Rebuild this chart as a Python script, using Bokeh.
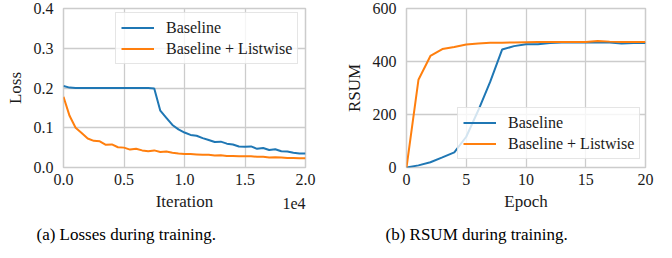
from bokeh.plotting import figure
from bokeh.layouts import row
from bokeh.models import Range1d, FixedTicker, Legend, LegendItem, Label, Title, InlineStyleSheet
from bokeh.core.properties import value
from bokeh.embed import file_html
from bokeh.resources import INLINE

# ---- data: losses (left) ----
iterations = [0, 500, 1000, 1500, 2000, 2500, 3000, 3500, 4000, 4500, 5000,
              5500, 6000, 6500, 7000, 7500, 8000, 8500, 9000, 9500, 10000,
              10500, 11000, 11500, 12000, 12500, 13000, 13500, 14000, 14500, 15000,
              15500, 16000, 16500, 17000, 17500, 18000, 18500, 19000, 19500, 20000]
loss_baseline = [0.205, 0.201, 0.200, 0.200, 0.200, 0.200, 0.200, 0.200, 0.200, 0.200, 0.200,
                 0.200, 0.200, 0.200, 0.200, 0.199, 0.143, 0.125, 0.107, 0.096, 0.088,
                 0.082, 0.080, 0.074, 0.069, 0.064, 0.065, 0.060, 0.058, 0.053, 0.052,
                 0.053, 0.047, 0.049, 0.044, 0.046, 0.041, 0.040, 0.037, 0.035, 0.035]
loss_listwise = [0.178, 0.130, 0.100, 0.087, 0.073, 0.067, 0.066, 0.057, 0.058, 0.051, 0.050,
                 0.045, 0.047, 0.043, 0.041, 0.043, 0.039, 0.040, 0.037, 0.035, 0.034,
                 0.034, 0.033, 0.032, 0.032, 0.030, 0.031, 0.029, 0.029, 0.028, 0.028,
                 0.028, 0.027, 0.027, 0.025, 0.026, 0.025, 0.024, 0.024, 0.023, 0.023]
loss_xticks = [0, 5000, 10000, 15000, 20000]
loss_xtick_labels = ["0.0", "0.5", "1.0", "1.5", "2.0"]
loss_yticks = [0.0, 0.1, 0.2, 0.3, 0.4]
loss_ytick_labels = ["0.0", "0.1", "0.2", "0.3", "0.4"]
loss_x_scale_text = "1e4"

# ---- data: RSUM (right) ----
epochs = list(range(0, 21))
rsum_baseline = [0, 8, 20, 38, 57, 116, 215, 323, 445, 458, 465,
                 465, 470, 472, 472, 472, 472, 472, 468, 470, 470]
rsum_listwise = [0, 331, 421, 447, 455, 464, 468, 471, 471, 472, 473,
                 474, 474, 474, 474, 474, 477, 475, 474, 474, 474]
rsum_xticks = [0, 5, 10, 15, 20]
rsum_yticks = [0, 200, 400, 600]

series_names = ["Baseline", "Baseline + Listwise"]
captions = ["(a) Losses during training.", "(b) RSUM during training."]

BLUE = "#1f77b4"
ORANGE = "#ff7f0e"
GRID = "#cccccc"
FONT = "Liberation Serif"
TXT = "#1a1a1a"

SERIF_CSS = """
:host { font-family: 'Liberation Serif', serif !important; --bokeh-font-family: 'Liberation Serif', serif; }
text, tspan, div, span { font-family: 'Liberation Serif', serif !important; }
"""


def set_font(obj, attr, font):
    try:
        setattr(obj, attr, value(font))
    except Exception:
        setattr(obj, attr, font)


def style(p):
    p.outline_line_color = GRID
    p.outline_line_width = 1.5
    for ax in (p.xaxis[0], p.yaxis[0]):
        ax.axis_line_color = None
        ax.major_tick_line_color = None
        ax.minor_tick_line_color = None
        ax.major_tick_out = 0
        ax.major_tick_in = 0
        set_font(ax, "major_label_text_font", FONT)
        ax.major_label_text_font_size = "16px"
        ax.major_label_text_color = TXT
        set_font(ax, "axis_label_text_font", FONT)
        ax.axis_label_text_font_size = "17px"
        ax.axis_label_text_font_style = "normal"
        ax.axis_label_text_color = TXT
    p.xaxis.major_label_standoff = 6
    p.yaxis.major_label_standoff = 10
    p.xaxis.axis_label_standoff = 4
    p.yaxis.axis_label_standoff = 6
    p.xgrid.grid_line_color = GRID
    p.ygrid.grid_line_color = GRID
    p.xgrid.grid_line_width = 1.3
    p.ygrid.grid_line_width = 1.3
    p.stylesheets = [InlineStyleSheet(css=SERIF_CSS)]


def make_legend(p, renderers, loc):
    leg = Legend(items=[LegendItem(label=n, renderers=[r]) for n, r in zip(series_names, renderers)],
                 location=loc)
    set_font(leg, "label_text_font", FONT)
    leg.label_text_font_size = "16px"
    leg.label_text_color = TXT
    leg.glyph_width = 33
    leg.glyph_height = 19
    leg.label_height = 19
    leg.label_standoff = 12
    leg.spacing = 2
    leg.padding = 5
    leg.margin = 0
    leg.border_line_color = GRID
    leg.border_line_width = 1.2
    leg.background_fill_alpha = 0.8
    p.add_layout(leg, "center")


def caption(p, text, offset):
    t = Title(text=text, align="left", offset=offset, text_font_size="17px",
              text_font_style="normal", text_color="#000000", standoff=19)
    set_font(t, "text_font", FONT)
    p.add_layout(t, "below")


# ---- left figure ----
p1 = figure(width=336, height=258, output_backend="svg", toolbar_location=None,
            x_range=Range1d(0, 20000), y_range=Range1d(0, 0.4),
            min_border_left=63, min_border_right=31, min_border_top=7, min_border_bottom=91)
style(p1)
r1 = p1.line(iterations, loss_baseline, line_color=BLUE, line_width=2)
r2 = p1.line(iterations, loss_listwise, line_color=ORANGE, line_width=2)
p1.xaxis.ticker = FixedTicker(ticks=loss_xticks)
p1.xaxis.major_label_overrides = {t: l for t, l in zip(loss_xticks, loss_xtick_labels)}
p1.yaxis.ticker = FixedTicker(ticks=loss_yticks)
p1.yaxis.major_label_overrides = {t: l for t, l in zip(loss_yticks, loss_ytick_labels)}
p1.xaxis.axis_label = "Iteration"
p1.yaxis.axis_label = "Loss"
make_legend(p1, [r1, r2], (52, 103))
scale_lbl = Label(x=0, y=-36, x_units="screen", y_units="screen", text=loss_x_scale_text,
                  text_font_size="16px", text_color=TXT,
                  text_align="right", text_baseline="middle")
set_font(scale_lbl, "text_font", FONT)
p1.add_layout(scale_lbl, "right")
caption(p1, captions[0], -27)

# ---- right figure ----
p2 = figure(width=336, height=258, output_backend="svg", toolbar_location=None,
            x_range=Range1d(0, 20), y_range=Range1d(0, 600),
            min_border_left=70, min_border_right=27, min_border_top=8, min_border_bottom=91)
style(p2)
r3 = p2.line(epochs, rsum_baseline, line_color=BLUE, line_width=2)
r4 = p2.line(epochs, rsum_listwise, line_color=ORANGE, line_width=2)
p2.xaxis.ticker = FixedTicker(ticks=rsum_xticks)
p2.yaxis.ticker = FixedTicker(ticks=rsum_yticks)
p2.xaxis.axis_label = "Epoch"
p2.yaxis.axis_label = "RSUM"
make_legend(p2, [r3, r4], (51, 8))
caption(p2, captions[1], -21)

layout = row(p1, p2, stylesheets=[InlineStyleSheet(css=SERIF_CSS)])
open("out.html", "w").write(file_html(layout, INLINE))
